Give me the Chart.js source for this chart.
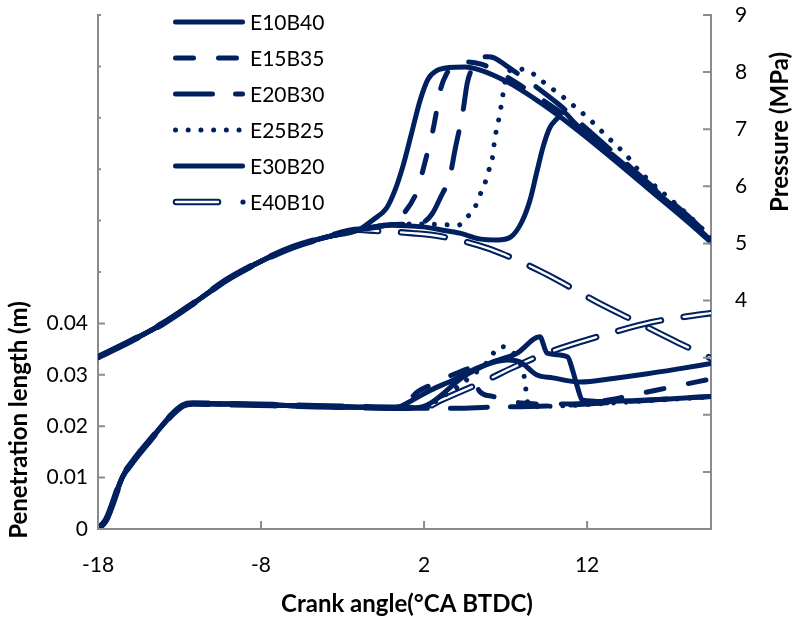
<!DOCTYPE html>
<html>
<head>
<meta charset="utf-8">
<script src="https://cdn.jsdelivr.net/npm/chart.js@4.4.1/dist/chart.umd.min.js"></script>
<style>
  html, body { margin: 0; padding: 0; background: #fff; }
  #wrap { width: 792px; height: 617px; }
</style>
</head>
<body>
<div id="wrap"><canvas id="sprayPlot" width="792" height="617"></canvas></div>
<script>
// axis ticks
const xTicks = [-18, -8, 2, 12];
const xMin = -18, xMax = 19.6;
const lenTicks = [0, 0.01, 0.02, 0.03, 0.04, 0.05, 0.06, 0.07, 0.08, 0.09, 0.1];
const lenLabelMax = 0.04;
const pressTicks = [0, 1, 2, 3, 4, 5, 6, 7, 8, 9];
const pressLabelMin = 4;

const seriesNames = ["E10B40", "E15B35", "E20B30", "E25B25", "E30B20", "E40B10"];

// cylinder pressure (MPa), shared compression part
const pressCommonX = [-18, -16, -14, -12, -10, -8, -6, -4, -2];
const pressCommonY = [3.01, 3.29, 3.60, 3.98, 4.38, 4.69, 4.94, 5.11, 5.24];

const e10PressX = [-1.1, -0.3, 0.2, 0.7, 1.25, 1.75, 2.25, 2.8, 3.5, 4.5, 5.4, 7.1, 8.7, 10.2, 12, 14, 16, 18, 19.6];
const e10PressY = [5.42, 5.62, 5.92, 6.35, 6.95, 7.5, 7.88, 8.03, 8.08, 8.09, 8.04, 7.83, 7.55, 7.25, 6.85, 6.38, 5.9, 5.42, 5.02];
const e15PressX = [-1, 0, 0.8, 1.6, 1.9, 2.25, 2.55, 2.8, 3.0, 3.4, 3.8, 4.6, 5.5, 7.0, 8.7, 10.2, 12, 14, 16, 18, 19.6];
const e15PressY = [5.28, 5.36, 5.54, 5.94, 6.25, 6.64, 6.99, 7.37, 7.69, 7.98, 8.12, 8.18, 8.14, 7.93, 7.62, 7.33, 6.92, 6.45, 5.97, 5.5, 5.08];
const e20PressX = [0, 1, 2, 2.5, 3.0, 3.6, 3.9, 4.4, 4.65, 5.0, 5.3, 5.9, 6.3, 7.1, 8.7, 10.2, 12, 14, 16, 18, 19.6];
const e20PressY = [5.33, 5.34, 5.38, 5.52, 5.8, 6.2, 6.64, 7.34, 7.81, 8.09, 8.21, 8.27, 8.25, 8.1, 7.78, 7.45, 7.0, 6.5, 6.0, 5.53, 5.1];
const e25PressX = [0, 2, 3, 4.1, 4.64, 5.13, 5.43, 5.74, 5.93, 6.17, 6.36, 6.54, 6.66, 6.79, 6.9, 7.1, 7.5, 8.0, 8.7, 9.3, 10.5, 11.1, 12.2, 13.3, 14.45, 15.1, 16, 18, 19.6];
const e25PressY = [5.33, 5.34, 5.33, 5.32, 5.46, 5.64, 5.85, 6.06, 6.25, 6.46, 6.87, 7.11, 7.30, 7.51, 7.74, 7.95, 8.06, 8.05, 7.97, 7.83, 7.57, 7.43, 7.16, 6.85, 6.53, 6.3, 6.05, 5.55, 5.11];
const e30PressX = [0, 1.94, 3.0, 4.2, 5.4, 6.5, 7.3, 8.0, 8.5, 8.9, 9.3, 9.7, 10.2, 10.5, 11.2, 12, 14, 16, 18, 19.6];
const e30PressY = [5.32, 5.29, 5.24, 5.18, 5.08, 5.06, 5.11, 5.38, 5.76, 6.23, 6.69, 7.02, 7.2, 7.3, 7.12, 6.9, 6.42, 5.95, 5.48, 5.05];
const e40PressX = [-1, 1.3, 2.7, 5.3, 6.7, 9.1, 10.3, 12.7, 14.8, 17.6, 19.6];
const e40PressY = [5.22, 5.18, 5.14, 4.97, 4.83, 4.52, 4.34, 3.96, 3.66, 3.26, 2.99];

// spray penetration length (m), shared part
const lenCommonX = [-18, -17.5, -16.5, -15.8, -14.8, -13.6, -12.8, -12.2, -10, -6, -2, 0];
const lenCommonY = [0, 0.0018, 0.0101, 0.0134, 0.0173, 0.0218, 0.024, 0.0244, 0.0243, 0.024, 0.0237, 0.0236];

const e10LenX = [0.5, 1.3, 2.4, 3.8, 5.4, 7.1, 7.9, 8.9, 9.9, 11.6, 13.6, 15.7, 17.7, 19.6];
const e10LenY = [0.0238, 0.0251, 0.027, 0.029, 0.0315, 0.0329, 0.0325, 0.030, 0.0294, 0.0286, 0.0293, 0.0302, 0.0312, 0.0322];
const e15LenX = [0.5, 1.0, 1.6, 2.4, 3.0, 4.0, 4.8, 5.1, 5.4, 6.2, 8, 10, 12, 13.5, 15, 17, 19.6];
const e15LenY = [0.0237, 0.0248, 0.0267, 0.028, 0.029, 0.0303, 0.0312, 0.029, 0.0268, 0.0258, 0.0245, 0.0243, 0.0245, 0.0252, 0.0262, 0.0275, 0.0292];
const e20LenX = [2, 4, 6, 8, 10, 12, 14, 16, 18, 19.6];
const e20LenY = [0.0235, 0.0235, 0.0237, 0.0238, 0.024, 0.0243, 0.0247, 0.0251, 0.0255, 0.0258];
const e25LenX = [2, 3, 4, 5, 5.8, 6.2, 6.7, 7.4, 8.0, 8.2, 8.3, 8.6, 10, 12, 14, 16, 18, 19.6];
const e25LenY = [0.0236, 0.0255, 0.0275, 0.030, 0.0322, 0.034, 0.0355, 0.0345, 0.0313, 0.0285, 0.0255, 0.0238, 0.0239, 0.0242, 0.0246, 0.025, 0.0254, 0.0257];
const e30LenX = [1.5, 2.4, 4.4, 6.05, 7.7, 9.1, 9.55, 10.8, 11.1, 11.4, 11.7, 13, 15, 17, 19.6];
const e30LenY = [0.0236, 0.0245, 0.0296, 0.0323, 0.0342, 0.0374, 0.0342, 0.0335, 0.031, 0.0277, 0.0251, 0.0248, 0.025, 0.0253, 0.0258];
const e40LenX = [2, 3, 4, 5.6, 7.5, 9.5, 12, 13.4, 15.9, 18, 19.6];
const e40LenY = [0.0236, 0.025, 0.0264, 0.0286, 0.0315, 0.0342, 0.0368, 0.0381, 0.0402, 0.0413, 0.042];

const navy = "#002060";
const axisGrey = "#8c8c8c";
const dashes = [[], [18, 25], [37, 23], [0.01, 12.7], [], [44, 23]];

function pts(xs, ys) {
    return xs.map((x, i) => ({ x: x, y: ys[i] }));
}

const pressTails = [[e10PressX, e10PressY], [e15PressX, e15PressY], [e20PressX, e20PressY],
                    [e25PressX, e25PressY], [e30PressX, e30PressY], [e40PressX, e40PressY]];
const lenTails = [[e10LenX, e10LenY], [e15LenX, e15LenY], [e20LenX, e20LenY],
                  [e25LenX, e25LenY], [e30LenX, e30LenY], [e40LenX, e40LenY]];

function lineSet(label, data, axis, i, width, colour, order) {
    return {
        label: label,
        data: data,
        yAxisID: axis,
        showLine: true,
        pointRadius: 0,
        borderColor: colour,
        borderWidth: width,
        borderDash: dashes[i],
        borderCapStyle: "round",
        borderJoinStyle: "round",
        cubicInterpolationMode: "monotone",
        fill: false,
        order: order
    };
}

// E40B10 (double line) goes underneath the others
const datasets = [];
seriesNames.forEach(function (name, i) {
    const p = pts(pressCommonX.concat(pressTails[i][0]), pressCommonY.concat(pressTails[i][1]));
    const l = pts(lenCommonX.concat(lenTails[i][0]), lenCommonY.concat(lenTails[i][1]));
    if (i === 5) {
        datasets.push(lineSet(name + " pressure", p, "yP", i, 6.5, navy, 4));
        datasets.push(lineSet(name + " length", l, "yL", i, 6.5, navy, 4));
        datasets.push(lineSet(name + " pressure core", p, "yP", i, 2.4, "#ffffff", 3));
        datasets.push(lineSet(name + " length core", l, "yL", i, 2.4, "#ffffff", 3));
    } else {
        datasets.push(lineSet(name + " pressure", p, "yP", i, 5, navy, 1));
        datasets.push(lineSet(name + " length", l, "yL", i, 5, navy, 1));
    }
});

const tickFont = { family: "Lato", size: 21 };

const decorations = {
    id: "decorations",
    afterDraw(chart) {
        const ctx = chart.ctx;
        const area = chart.chartArea;
        const sx = chart.scales.x, sl = chart.scales.yL, sp = chart.scales.yP;
        ctx.save();

        // tick marks point into the plot
        ctx.strokeStyle = axisGrey;
        ctx.lineWidth = 2;
        ctx.setLineDash([]);
        ctx.beginPath();
        xTicks.forEach(function (v) {
            const px = sx.getPixelForValue(v);
            ctx.moveTo(px, area.bottom);
            ctx.lineTo(px, area.bottom - 8);
        });
        lenTicks.forEach(function (v) {
            const py = sl.getPixelForValue(v);
            ctx.moveTo(area.left, py);
            ctx.lineTo(area.left + (v <= lenLabelMax + 1e-9 ? 7 : 3), py);
        });
        pressTicks.forEach(function (v) {
            const py = sp.getPixelForValue(v);
            ctx.moveTo(area.right, py);
            ctx.lineTo(area.right - 8, py);
        });
        ctx.stroke();

        // axis titles
        ctx.fillStyle = "#000";
        ctx.font = "bold 24px Lato";
        ctx.textAlign = "center";
        ctx.textBaseline = "middle";
        ctx.fillText("Crank angle(°CA BTDC)", 407, 604);
        ctx.save();
        ctx.translate(19, 420);
        ctx.rotate(-Math.PI / 2);
        ctx.fillText("Penetration length (m)", 0, 0);
        ctx.restore();
        ctx.save();
        ctx.translate(780, 132);
        ctx.rotate(-Math.PI / 2);
        ctx.fillText("Pressure (MPa)", 0, 0);
        ctx.restore();

        // legend
        ctx.font = "21px Lato";
        ctx.textAlign = "left";
        seriesNames.forEach(function (name, i) {
            const y = 22 + i * 36;
            ctx.strokeStyle = navy;
            ctx.lineCap = "round";
            if (i === 5) {
                ctx.setLineDash([]);
                ctx.lineWidth = 6.5;
                ctx.beginPath(); ctx.moveTo(176, y); ctx.lineTo(218, y); ctx.stroke();
                ctx.strokeStyle = "#ffffff";
                ctx.lineWidth = 2.4;
                ctx.beginPath(); ctx.moveTo(176, y); ctx.lineTo(218, y); ctx.stroke();
                ctx.fillStyle = navy;
                ctx.beginPath(); ctx.arc(243, y, 2.6, 0, Math.PI * 2); ctx.fill();
            } else {
                ctx.setLineDash(dashes[i]);
                ctx.lineWidth = 5;
                ctx.beginPath(); ctx.moveTo(175.5, y); ctx.lineTo(242.5, y); ctx.stroke();
            }
            ctx.setLineDash([]);
            ctx.fillStyle = "#000";
            ctx.fillText(name, 250, y + 1);
        });
        ctx.restore();
    }
};

function noVerticalPad(s) { s.paddingTop = 0; s.paddingBottom = 0; }

new Chart(document.getElementById("sprayPlot"), {
    type: "scatter",
    data: { datasets: datasets },
    options: {
        responsive: false,
        animation: false,
        devicePixelRatio: 1,
        layout: { padding: { top: 15, left: 0, right: 0, bottom: 0 } },
        plugins: { legend: { display: false }, tooltip: { enabled: false } },
        scales: {
            x: {
                type: "linear",
                min: xMin,
                max: xMax,
                grid: { display: false, drawTicks: false },
                border: { display: true, color: axisGrey, width: 2 },
                ticks: { padding: 24, font: tickFont, color: "#000", autoSkip: false, maxRotation: 0,
                         callback: function (v) { return String(v); } },
                afterBuildTicks: function (s) { s.ticks = xTicks.map(function (v) { return { value: v }; }); },
                afterFit: function (s) { s.height = 88; s.paddingLeft = 0; s.paddingRight = 0; }
            },
            yL: {
                type: "linear",
                position: "left",
                min: 0,
                max: 0.1,
                grid: { display: false, drawTicks: false },
                border: { display: true, color: axisGrey, width: 2 },
                ticks: { padding: 10, font: tickFont, color: "#000", autoSkip: false,
                         callback: function (v) { return v > lenLabelMax + 1e-9 ? "" : (v === 0 ? "0" : v.toFixed(2)); } },
                afterBuildTicks: function (s) { s.ticks = lenTicks.map(function (v) { return { value: v }; }); },
                afterFit: function (s) { s.width = 98; noVerticalPad(s); }
            },
            yP: {
                type: "linear",
                position: "right",
                min: 0,
                max: 9,
                grid: { display: false, drawTicks: false },
                border: { display: true, color: axisGrey, width: 2 },
                ticks: { padding: 24, font: tickFont, color: "#000", autoSkip: false,
                         callback: function (v) { return v < pressLabelMin ? "" : String(v); } },
                afterBuildTicks: function (s) { s.ticks = pressTicks.map(function (v) { return { value: v }; }); },
                afterFit: function (s) { s.width = 81; noVerticalPad(s); }
            }
        }
    },
    plugins: [decorations]
});
</script>
</body>
</html>
